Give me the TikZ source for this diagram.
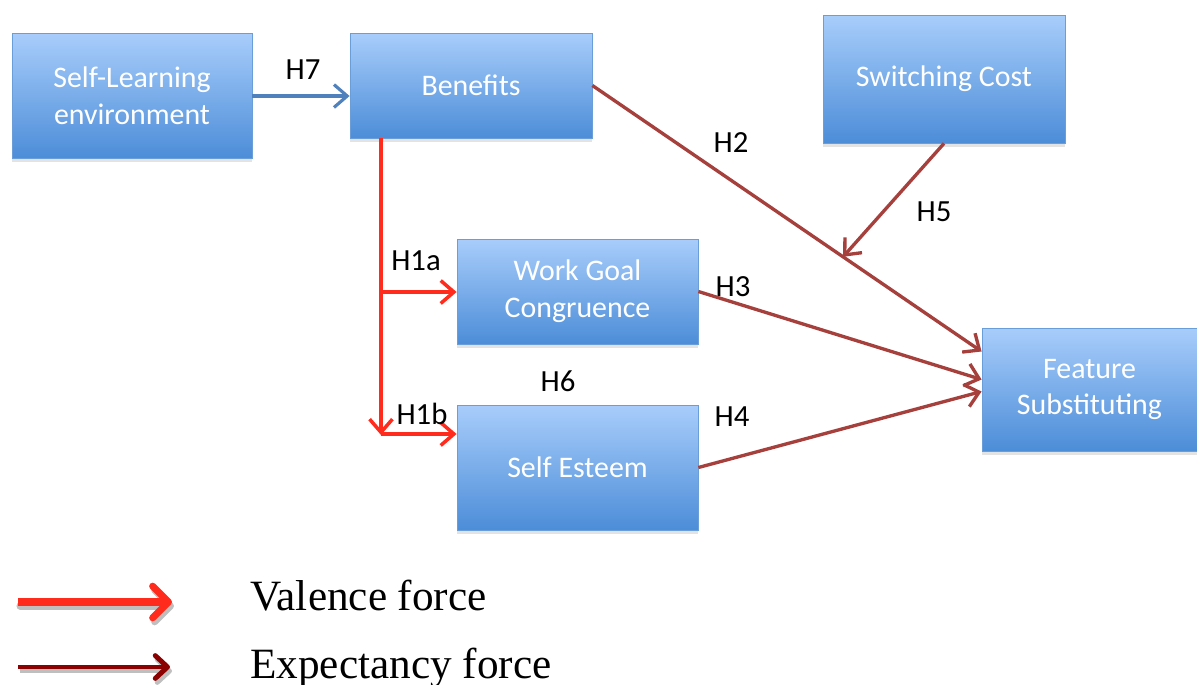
\documentclass[tikz,border=0pt]{standalone}
\usepackage{fontspec}
\setmainfont{Liberation Serif}
\newfontfamily\boxfont{Carlito}
\usetikzlibrary{arrows.meta,calc,shadows}
\definecolor{boxtop}{HTML}{A8CDFB}
\definecolor{boxbot}{HTML}{4C8DD8}
\definecolor{boxline}{HTML}{6A9ED8}
\definecolor{exred}{HTML}{A5403C}
\definecolor{valred}{HTML}{FF2B1C}
\definecolor{linkblue}{HTML}{4F81BD}
\definecolor{legdark}{HTML}{8B0000}
\tikzset{
  cbox/.style={draw=boxline, line width=0.5pt, top color=boxtop, bottom color=boxbot,
    text=white, font=\boxfont\fontsize{17}{21}\selectfont, align=center, inner sep=0pt,
    drop shadow={shadow xshift=0pt, shadow yshift=-2.5pt, opacity=0.22}},
  hlab/.style={font=\boxfont\fontsize{17.5}{21}\selectfont, inner sep=0pt, text depth=0pt, text=black},
  expc/.style={draw=exred, line width=1.9pt, -{Straight Barb[length=7.5pt,width=13pt]}},
  valc/.style={draw=valred, line width=2pt, -{Straight Barb[length=7.5pt,width=13pt]}},
  bluec/.style={draw=linkblue, line width=1.8pt, -{Straight Barb[length=7.5pt,width=13pt]}},
  legtext/.style={font=\fontsize{24.6}{28}\selectfont, anchor=base west, inner sep=0pt}
}
\begin{document}
\begin{tikzpicture}[x=0.02cm,y=-0.02cm]
\useasboundingbox (0,0) rectangle (1197,684);
% boxes
\node[cbox, minimum width=4.8cm, minimum height=2.5cm] (sle) at (132,95.5) {\raisebox{-4pt}{Self-Learning}\\\raisebox{-4pt}{environment}};
\node[cbox, minimum width=4.84cm, minimum height=2.1cm] (ben) at (471,85.5) {\raisebox{-2pt}{Benefits}};
\node[cbox, minimum width=4.84cm, minimum height=2.56cm] (sw) at (944,79) {\raisebox{-3pt}{Switching Cost}};
\node[cbox, minimum width=4.82cm, minimum height=2.1cm] (wg) at (577.5,291.5) {\raisebox{-4pt}{Work Goal}\\\raisebox{-4pt}{Congruence}};
\node[cbox, minimum width=4.82cm, minimum height=2.5cm] (se) at (577.5,467.5) {\raisebox{-2pt}{Self Esteem}};
\node[cbox, minimum width=4.3cm, minimum height=2.46cm] (feat) at (1089.5,389.5) {\raisebox{-4pt}{Feature}\\\raisebox{-4pt}{Substituting}};
% coordinates
\coordinate (v0) at (381,138);
\coordinate (v1) at (381,435);
\coordinate (j1) at (381,292);
\coordinate (j2) at (381,434);
\coordinate (e2) at ($(feat.west)+(0,-38)$);
\coordinate (e3) at ($(feat.west)+(0,-10)$);
\coordinate (e4) at ($(feat.west)+(0,2)$);
\coordinate (h5end) at ($(ben.east)!0.644!(e2)$);
% connectors
\draw[bluec] (sle.east |- 0,96) -- (ben.west |- 0,96);
\draw[expc] (ben.east) -- (e2);
\draw[expc] (sw.south) -- (h5end);
\draw[expc] (wg.east) -- (e3);
\draw[expc] (se.east) -- (e4);
\draw[valc] (v0) -- (v1);
\draw[valc] (j1) -- (wg.west |- j1);
\draw[valc] (j2) -- (se.west |- j2);
% labels
\node[hlab] (l7) at (303,70) {H7};
\node[hlab] (l2) at (731,143) {H2};
\node[hlab] (l5) at (934,212) {H5};
\node[hlab] (l1a) at (416,261) {H1a};
\node[hlab] (l6) at (558,381) {H6};
\node[hlab] (l1b) at (422,414) {H1b};
\node[hlab] (l3) at (733,287) {H3};
\node[hlab] (l4) at (732,417) {H4};
% legend
\coordinate (ra) at (18,602);
\coordinate (rb) at (172,602);
\coordinate (da) at (18,667);
\coordinate (db) at (170,667);
\draw[black!25, line width=4pt, line cap=round, -{Straight Barb[length=9pt,width=18pt,round]}] ($(ra)+(2,4)$) -- ($(rb)+(2,4)$);
\draw[valred, line width=4pt, -{Straight Barb[length=9pt,width=18pt,round]}] (ra) -- (rb);
\draw[black!25, line width=2.8pt, -{Straight Barb[length=7pt,width=13pt,round]}] ($(da)+(2,4)$) -- ($(db)+(2,4)$);
\draw[legdark, line width=2.8pt, -{Straight Barb[length=7pt,width=13pt,round]}] (da) -- (db);
\node[legtext] (lv) at (250,610) {Valence force};
\node[legtext] (le) at (250,678) {Expectancy force};
\end{tikzpicture}
\end{document}
